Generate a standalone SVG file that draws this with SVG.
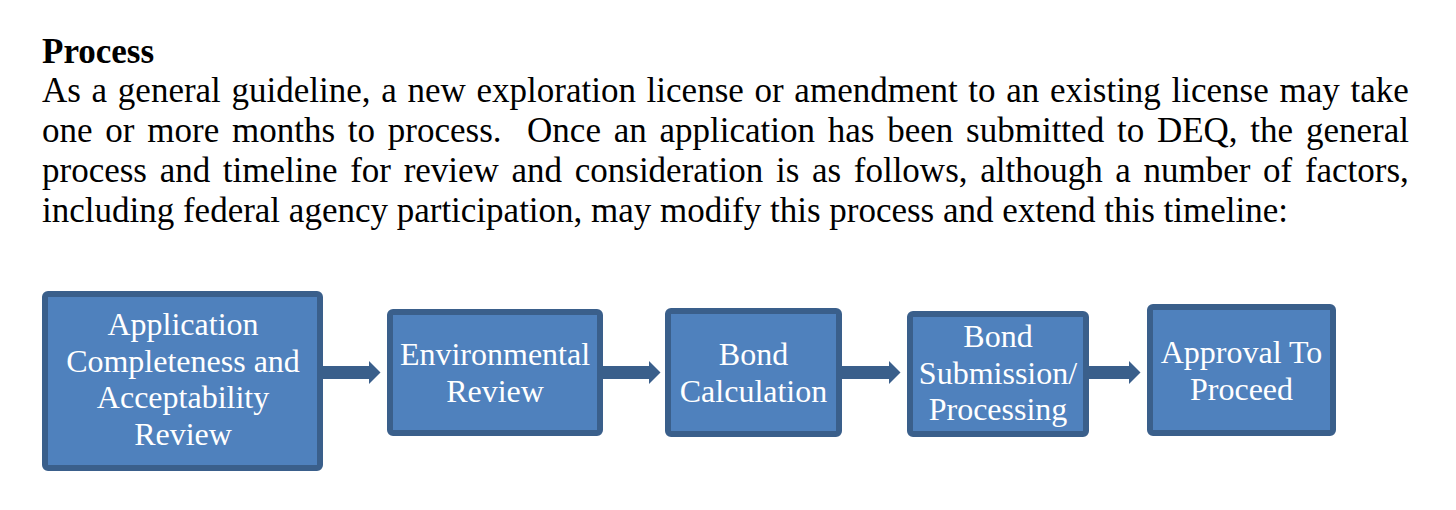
<svg xmlns="http://www.w3.org/2000/svg" width="1456" height="510" viewBox="0 0 1456 510">
<style>
  .para { font-family: "Liberation Serif", "Times New Roman", serif; font-size: 35px; fill: #000; }
  .head { font-family: "Liberation Serif", "Times New Roman", serif; font-size: 35px; font-weight: bold; fill: #000; }
  .box { fill: #4F81BD; stroke: #3A5F8B; stroke-width: 6; }
  .lbl { font-family: "Liberation Serif", "Times New Roman", serif; font-size: 32px; fill: #FFFFFF; text-anchor: middle; }
  .conn { stroke: #3A5F8B; stroke-width: 13; fill: none; }
</style>
<defs>
  <marker id="ah" markerUnits="userSpaceOnUse" markerWidth="13" markerHeight="24" refX="0.5" refY="12" orient="auto" viewBox="0 0 13 24">
    <path d="M0,0 L12,12 L0,24 Z" fill="#3A5F8B"/>
  </marker>
</defs>
<rect width="1456" height="510" fill="#FFFFFF"/>

<g id="text-block">
  <text class="head" x="42" y="63">Process</text>
  <text class="para" x="42" y="102" word-spacing="1.96">As a general guideline, a new exploration license or amendment to an existing license may take</text>
  <text class="para" x="42" y="142" word-spacing="4.03" xml:space="preserve" style="white-space:pre">one or more months to process.  Once an application has been submitted to DEQ, the general</text>
  <text class="para" x="42" y="182" word-spacing="3.91">process and timeline for review and consideration is as follows, although a number of factors,</text>
  <text class="para" x="42" y="222">including federal agency participation, may modify this process and extend this timeline:</text>
</g>

<g id="connectors">
  <line class="conn" x1="322" y1="372.5" x2="369" y2="372.5" marker-end="url(#ah)"/>
  <line class="conn" x1="602" y1="372.5" x2="649" y2="372.5" marker-end="url(#ah)"/>
  <line class="conn" x1="841" y1="372.5" x2="889" y2="372.5" marker-end="url(#ah)"/>
  <line class="conn" x1="1088" y1="372.5" x2="1129" y2="372.5" marker-end="url(#ah)"/>
</g>

<g id="node-application">
  <rect class="box" x="45" y="294" width="275" height="174" rx="3"/>
  <text class="lbl" x="183" y="335">Application</text>
  <text class="lbl" x="183" y="372">Completeness and</text>
  <text class="lbl" x="183" y="408">Acceptability</text>
  <text class="lbl" x="183" y="445">Review</text>
</g>

<g id="node-environmental">
  <rect class="box" x="390" y="312" width="210" height="121" rx="3"/>
  <text class="lbl" x="495" y="365">Environmental</text>
  <text class="lbl" x="495" y="402">Review</text>
</g>

<g id="node-bond-calc">
  <rect class="box" x="668" y="311" width="171" height="123" rx="3"/>
  <text class="lbl" x="753.5" y="365">Bond</text>
  <text class="lbl" x="753.5" y="402">Calculation</text>
</g>

<g id="node-bond-submission">
  <rect class="box" x="910" y="314" width="176" height="120" rx="3"/>
  <text class="lbl" x="998" y="347">Bond</text>
  <text class="lbl" x="998" y="384">Submission/</text>
  <text class="lbl" x="998" y="420">Processing</text>
</g>

<g id="node-approval">
  <rect class="box" x="1150" y="307" width="183" height="126" rx="3"/>
  <text class="lbl" x="1241.5" y="363">Approval To</text>
  <text class="lbl" x="1241.5" y="400">Proceed</text>
</g>
</svg>
